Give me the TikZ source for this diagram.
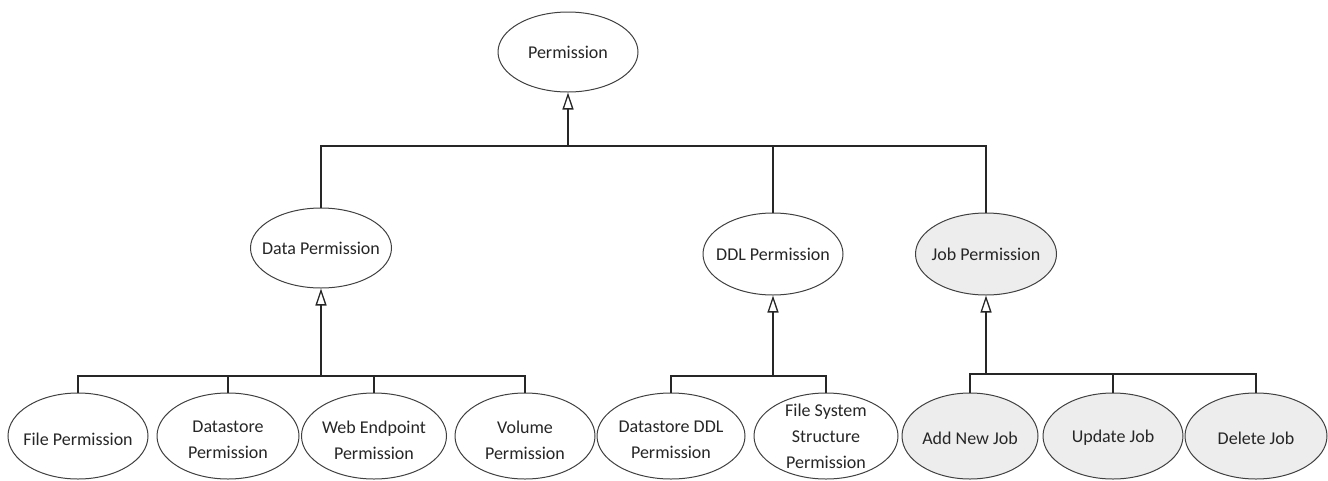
\documentclass[tikz,border=0pt]{standalone}
\usepackage{fontspec}
\setmainfont{Carlito}
\usetikzlibrary{arrows.meta,shapes.geometric}
\begin{document}
\begin{tikzpicture}[x=1pt,y=-1pt,
  cls/.style={ellipse, draw=black!75, line width=1pt, inner sep=0pt},
  plain/.style={cls, fill=white},
  shaded/.style={cls, fill=black!7},
  caption/.style={inner sep=0pt, text=black!85, align=center,
    font=\fontsize{18}{26}\selectfont},
  link/.style={draw=black!85, line width=1.2pt},
  inherit/.style={link, -{Triangle[open, length=17pt, width=11pt, line width=1.3pt]}}
]
\useasboundingbox (0,0) rectangle (1328,480);

% root and first level
\node[plain, minimum width=140, minimum height=80] (perm) at (568,52) {};
\node[plain, minimum width=141, minimum height=80] (data) at (321,248) {};
\node[plain, minimum width=140, minimum height=82] (ddl)  at (773,254) {};
\node[shaded, minimum width=141, minimum height=82] (job) at (986,254) {};

% leaves
\node[plain, minimum width=140, minimum height=86] (file) at (78,436) {};
\node[plain, minimum width=142, minimum height=86] (dstore) at (228,436) {};
\node[plain, minimum width=145, minimum height=86] (web) at (374,436) {};
\node[plain, minimum width=140, minimum height=86] (vol) at (525,436) {};
\node[plain, minimum width=148, minimum height=86] (dsddl) at (671,436) {};
\node[plain, minimum width=144, minimum height=86] (fss) at (826,436) {};
\node[shaded, minimum width=136, minimum height=86] (addjob) at (970,436) {};
\node[shaded, minimum width=140, minimum height=86] (updjob) at (1113,436) {};
\node[shaded, minimum width=142, minimum height=86] (deljob) at (1256,436) {};

% labels (yshift is in canvas units, so negative moves down)
\node[caption] (perm-t) at (perm) {Permission};
\node[caption] (data-t) at (data) {Data Permission};
\node[caption] (ddl-t) at (ddl) {DDL Permission};
\node[caption] (job-t) at (job) {Job Permission};
\node[caption] (file-t) at ([yshift=-3]file.center) {File Permission};
\node[caption] (dstore-t) at ([yshift=-4]dstore.center) {Datastore\\Permission};
\node[caption] (web-t) at ([yshift=-4]web.center) {Web Endpoint\\Permission};
\node[caption] (vol-t) at ([yshift=-4]vol.center) {Volume\\Permission};
\node[caption] (dsddl-t) at ([yshift=-4]dsddl.center) {Datastore DDL\\Permission};
\node[caption] (fss-t) at ([yshift=0]fss.center) {File System\\Structure\\Permission};
\node[caption] (addjob-t) at ([yshift=-2]addjob.center) {Add New Job};
\node[caption] (updjob-t) at ([yshift=-2]updjob.center) {Update Job};
\node[caption] (deljob-t) at ([yshift=-2]deljob.center) {Delete Job};

% bus junctions
\coordinate (topbus) at (568,146);
\coordinate (databus) at (321,376);
\coordinate (ddlbus) at (773,376);
\coordinate (jobbus) at (986,374);

% Permission hierarchy
\draw[link] (data.north) -- (data.north |- topbus) -- (job.north |- topbus) -- (job.north);
\draw[link] (ddl.north) -- (ddl.north |- topbus);
\draw[inherit] (topbus) -- (perm.south);

% Data Permission hierarchy
\draw[link] (file.north) -- (file.north |- databus) -- (vol.north |- databus) -- (vol.north);
\draw[link] (dstore.north) -- (dstore.north |- databus);
\draw[link] (web.north) -- (web.north |- databus);
\draw[inherit] (databus) -- (data.south);

% DDL Permission hierarchy
\draw[link] (dsddl.north) -- (dsddl.north |- ddlbus) -- (fss.north |- ddlbus) -- (fss.north);
\draw[inherit] (ddlbus) -- (ddl.south);

% Job Permission hierarchy
\draw[link] (addjob.north) -- (addjob.north |- jobbus) -- (deljob.north |- jobbus) -- (deljob.north);
\draw[link] (updjob.north) -- (updjob.north |- jobbus);
\draw[inherit] (jobbus) -- (job.south);
\end{tikzpicture}
\end{document}
